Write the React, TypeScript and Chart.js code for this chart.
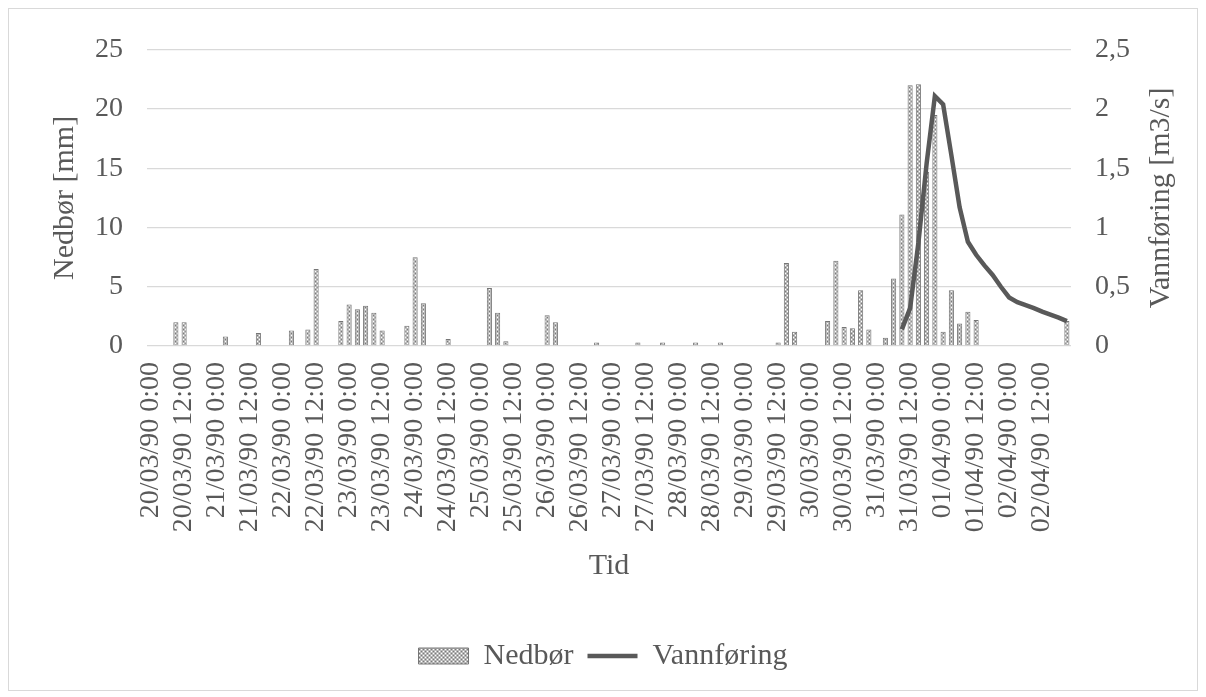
import React, { useEffect, useRef } from "react";
import { Chart, registerables } from "chart.js";

Chart.register(...registerables);

const FONT = "'Liberation Serif', 'Times New Roman', serif";
const TEXT = "#595959";

const days = [
  "20/03/90", "21/03/90", "22/03/90", "23/03/90", "24/03/90", "25/03/90", "26/03/90",
  "27/03/90", "28/03/90", "29/03/90", "30/03/90", "31/03/90", "01/04/90", "02/04/90",
];
const hours = ["0:00", "3:00", "6:00", "9:00", "12:00", "15:00", "18:00", "21:00"];
const categories = days.flatMap((d) => hours.map((h) => `${d} ${h}`));
const labelEvery = 4;

// Nedbør [mm], one row per day (3-hourly)
const nedbor = [
  0, 0, 0, 2.0, 2.0, 0, 0, 0,
  0, 0.8, 0, 0, 0, 1.1, 0, 0,
  0, 1.3, 0, 1.4, 6.5, 0, 0, 2.1,
  3.5, 3.1, 3.4, 2.8, 1.3, 0, 0, 1.7,
  7.5, 3.6, 0, 0, 0.6, 0, 0, 0,
  0, 4.9, 2.8, 0.4, 0, 0, 0, 0,
  2.6, 2.0, 0, 0, 0, 0, 0.3, 0,
  0, 0, 0, 0.3, 0, 0, 0.3, 0,
  0, 0, 0.3, 0, 0, 0.3, 0, 0,
  0, 0, 0, 0, 0.3, 7.0, 1.2, 0,
  0, 0, 2.1, 7.2, 1.6, 1.5, 4.7, 1.4,
  0, 0.7, 5.7, 11.1, 22.0, 22.1, 14.7, 19.5,
  1.2, 4.7, 1.9, 2.9, 2.2, 0, 0, 0,
  0, 0, 0, 0, 0, 0, 0, 2.1,
];

// Vannføring [m3/s], starts at 31/03/90 9:00
const vannforingStartIndex = 91;
const vannforingValues = [
  0.14, 0.32, 0.87, 1.54, 2.11, 2.04, 1.61, 1.17, 0.88, 0.77, 0.68,
  0.6, 0.5, 0.41, 0.37, 0.345, 0.32, 0.29, 0.265, 0.24, 0.21,
];
const vannforing = categories.map((_, i) =>
  i < vannforingStartIndex ? null : vannforingValues[i - vannforingStartIndex] ?? null
);

const seriesNames = ["Nedbør", "Vannføring"];
const yTitle = "Nedbør [mm]";
const y1Title = "Vannføring [m3/s]";
const xTitle = "Tid";

function makePattern(): CanvasPattern | string {
  const c = document.createElement("canvas");
  c.width = 4;
  c.height = 4;
  const g = c.getContext("2d");
  if (!g) return "#b0b0b0";
  g.fillStyle = "#b8b8b8";
  g.fillRect(0, 0, 4, 4);
  g.fillStyle = "#ffffff";
  g.fillRect(0, 0, 1, 1);
  g.fillRect(2, 2, 1, 1);
  g.fillStyle = "#7a7a7a";
  g.fillRect(2, 0, 1, 1);
  g.fillRect(0, 2, 1, 1);
  return g.createPattern(c, "repeat") || "#b0b0b0";
}

const rightTitlePlugin = {
  id: "rightTitle",
  afterDraw(chart: any) {
    const { ctx, chartArea } = chart;
    ctx.save();
    ctx.translate(1152, (chartArea.top + chartArea.bottom) / 2);
    ctx.rotate(-Math.PI / 2);
    ctx.fillStyle = TEXT;
    ctx.font = `30px ${FONT}`;
    ctx.textAlign = "center";
    ctx.textBaseline = "middle";
    ctx.fillText(y1Title, 0, 0);
    ctx.restore();
  },
};

export default function App() {
  const ref = useRef<HTMLCanvasElement | null>(null);

  useEffect(() => {
    if (!ref.current) return;
    const pattern = makePattern();
    const chart = new Chart(ref.current, {
      type: "bar",
      data: {
        labels: categories,
        datasets: [
          {
            type: "bar",
            label: seriesNames[0],
            data: nedbor,
            backgroundColor: pattern as any,
            borderColor: "#767676",
            borderWidth: 1,
            barPercentage: 0.62,
            categoryPercentage: 1,
            yAxisID: "y",
            order: 1,
          },
          {
            type: "line",
            label: seriesNames[1],
            data: vannforing as any,
            borderColor: "#595959",
            backgroundColor: "#595959",
            borderWidth: 4.5,
            pointRadius: 0,
            tension: 0,
            spanGaps: false,
            yAxisID: "y1",
            order: 0,
          } as any,
        ],
      },
      options: {
        animation: false,
        responsive: true,
        maintainAspectRatio: false,
        layout: { padding: { top: 37, bottom: 9, left: 0, right: 0 } },
        plugins: {
          tooltip: { enabled: false },
          legend: {
            position: "bottom",
            labels: {
              usePointStyle: true,
              pointStyleWidth: 50,
              boxHeight: 16,
              padding: 14,
              color: TEXT,
              font: { family: FONT, size: 30 },
              sort: (a: any, b: any) => a.datasetIndex - b.datasetIndex,
              generateLabels: (ch: any) => {
                const items = (Chart.defaults.plugins.legend.labels as any).generateLabels(ch);
                return items.map((it: any) =>
                  it.datasetIndex === 0
                    ? { ...it, pointStyle: "rect", fillStyle: pattern, strokeStyle: "#767676", lineWidth: 1 }
                    : { ...it, pointStyle: "line", strokeStyle: "#595959", lineWidth: 4.5 }
                );
              },
            },
          },
        },
        scales: {
          x: {
            offset: true,
            grid: { display: false, drawTicks: false },
            border: { display: false },
            ticks: {
              autoSkip: false,
              minRotation: 90,
              maxRotation: 90,
              padding: 16,
              color: TEXT,
              font: { family: FONT, size: 28 },
              callback: (_v: any, i: number) => (i % labelEvery === 0 ? categories[i] : ""),
            },
            title: {
              display: true,
              text: xTitle,
              color: TEXT,
              font: { family: FONT, size: 30 },
              padding: { top: 0, bottom: 43 },
            },
            afterFit: (s: any) => {
              s.height = 281;
            },
          },
          y: {
            position: "left",
            min: 0,
            max: 25,
            grid: { color: "#d9d9d9", lineWidth: 1.3, drawTicks: false },
            border: { display: false },
            ticks: {
              stepSize: 5,
              padding: 24,
              color: TEXT,
              font: { family: FONT, size: 28 },
            },
            title: {
              display: true,
              text: yTitle,
              color: TEXT,
              font: { family: FONT, size: 30 },
              padding: { top: 38, bottom: 0 },
            },
            afterFit: (s: any) => {
              s.width = 138;
            },
          },
          y1: {
            position: "right",
            min: 0,
            max: 2.5,
            grid: { display: false, drawTicks: false },
            border: { display: false },
            ticks: {
              stepSize: 0.5,
              padding: 24,
              color: TEXT,
              font: { family: FONT, size: 28 },
              callback: (v: any) => String(Math.round(Number(v) * 10) / 10).replace(".", ","),
            },
            title: { display: false },
            afterFit: (s: any) => {
              s.width = 126;
            },
          },
        },
      } as any,
      plugins: [rightTitlePlugin],
    });
    return () => chart.destroy();
  }, []);

  return (
    <div
      style={{
        width: 1190,
        height: 683,
        border: "1px solid #d9d9d9",
        boxSizing: "border-box",
        background: "#ffffff",
      }}
    >
      <div style={{ position: "relative", width: 1188, height: 681 }}>
        <canvas ref={ref} />
      </div>
    </div>
  );
}
